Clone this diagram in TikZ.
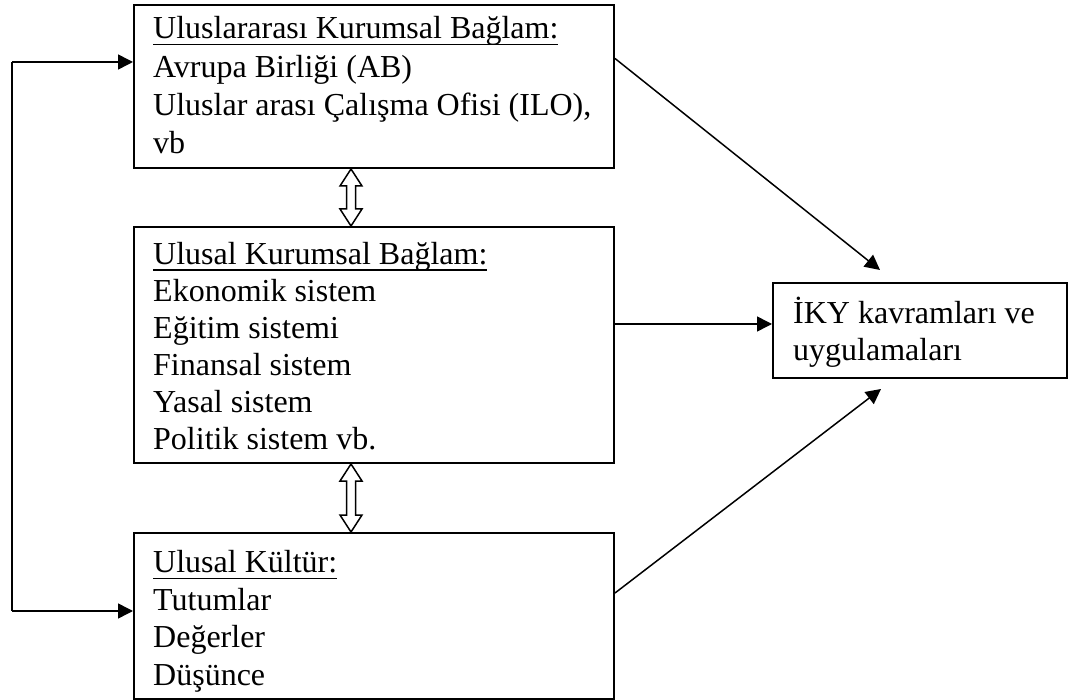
\documentclass[tikz,border=0pt]{standalone}
\usepackage{fontspec}
\setmainfont{Liberation Serif}
\usetikzlibrary{arrows.meta,calc}
% underlined heading: text with a rule under it
\newlength{\hdrwidth}
\newcommand{\hdr}[1]{\settowidth{\hdrwidth}{#1}\rlap{#1}\rule[-6.4pt]{\hdrwidth}{1.4pt}}
\begin{document}
\begin{tikzpicture}[x=1pt,y=-1pt,
  box/.style={draw, line width=2pt, anchor=north west, inner sep=0pt},
  txt/.style={anchor=north west, align=left, inner sep=0pt,
    font=\fontsize{32}{37}\selectfont},
  arr/.style={-{Triangle[length=15pt,width=15pt]}, line width=1.5pt},
  dbl/.style={draw, line width=1.5pt, fill=white, line join=miter}]

\useasboundingbox (0,0) rectangle (1068,700);

% frames
\node[box, minimum width=480pt, minimum height=163pt] (b1) at (133,4) {};
\node[box, minimum width=480pt, minimum height=236pt] (b2) at (133,226) {};
\node[box, minimum width=480pt, minimum height=166pt] (b3) at (133,532) {};
\node[box, minimum width=294pt, minimum height=95pt]  (b4) at (772,282) {};

% texts (first baseline sits 0.7 baselineskip below the node top)
\node[txt, font=\fontsize{32}{38.3}\selectfont] (t1) at (153,11.7)
  {\strut\hdr{Uluslararası Kurumsal Bağlam:}\\
  Avrupa Birliği (AB)\\
  Uluslar arası Çalışma Ofisi (ILO),\\
  vb};
\node[txt] (t2) at (153,238.1) {\strut\hdr{Ulusal Kurumsal Bağlam:}\\
  Ekonomik sistem\\
  Eğitim sistemi\\
  Finansal sistem\\
  Yasal sistem\\
  Politik sistem vb.};
\node[txt, font=\fontsize{32}{37.4}\selectfont] (t3) at (153,546.5)
  {\strut\hdr{Ulusal Kültür:}\\
  Tutumlar\\
  Değerler\\
  Düşünce};
\node[txt] (t4) at (793,296.5) {\strut İKY kavramları ve\\
  uygulamaları};

% feedback loop on the left
\coordinate (l1) at (12,62);
\coordinate (l3) at (12,611);
\draw[line width=1.5pt] (l1) -- (l3);
\draw[arr] (l1) -- (l1 -| b1.west);
\draw[arr] (l3) -- (l3 -| b3.west);

% arrows into the HRM box
\coordinate (m) at (0,324);
\draw[arr] ($(b1.east)+(0,-28)$) -- (880,270);
\draw[arr] (b2.east |- m) -- (b4.west |- m);
\draw[arr] ($(b3.east)+(0,-23)$) -- (881,389);

% hollow two-way arrows between the context boxes
\coordinate (da) at (351,0);
\path (da |- b1.south) coordinate (u1) (da |- b2.north) coordinate (u2);
\path (da |- b2.south) coordinate (v1) (da |- b3.north) coordinate (v2);
\draw[dbl] (u1) -- ++(11,17) -- ++(-6.5,0) -- ($(u2)+(4.5,-17)$) -- ++(6.5,0)
  -- (u2) -- ++(-11,-17) -- ++(6.5,0) -- ($(u1)+(-4.5,17)$) -- ++(-6.5,0) -- cycle;
\draw[dbl] (v1) -- ++(11,17) -- ++(-6.5,0) -- ($(v2)+(4.5,-17)$) -- ++(6.5,0)
  -- (v2) -- ++(-11,-17) -- ++(6.5,0) -- ($(v1)+(-4.5,17)$) -- ++(-6.5,0) -- cycle;
\end{tikzpicture}
\end{document}
